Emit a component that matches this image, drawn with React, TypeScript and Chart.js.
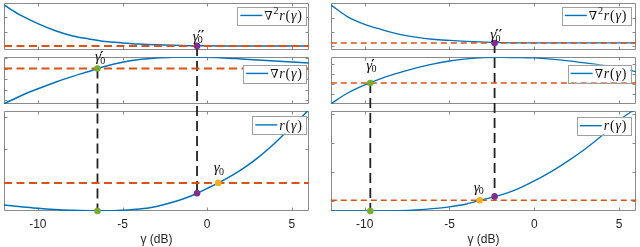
import React, { useEffect, useRef } from 'react';
import { Chart, registerables } from 'chart.js';

Chart.register(...registerables);

// ---------------- data ----------------
const gammaDb = [-12, -11, -10, -9, -8, -7, -6, -5, -4, -3, -2, -1, 0, 1, 2, 3, 4, 5, 6];
const xTickValues = [-10, -5, 0, 5];
const xAxisTitle = 'γ (dB)';
const legendLabels = ['∇²r(γ)', '∇r(γ)', 'r(γ)'];

// left subplot (values in % of each panel's height)
const leftD2r = [95.8, 73.5, 56.0, 41.4, 30.1, 23.3, 17.8, 14.8, 12.3, 10.6, 9.5, 8.8, 8.5, 8.4, 8.4, 8.4, 8.4, 8.4, 8.4];
const leftDr = [0.6, 17.9, 32.7, 46.1, 58.6, 69.7, 81.0, 89.5, 95.0, 98.5, 100.0, 100.3, 99.8, 98.5, 96.4, 94.3, 92.2, 90.1, 88.0];
const leftR = [5.9, 4.3, 2.7, 1.5, 0.7, 0.3, 0.25, 0.8, 2.0, 4.6, 9.0, 14.7, 22.6, 31.1, 41.1, 53.3, 67.9, 84.3, 101.0];
const leftMarkerX = [-6.48, -0.6, 0.65]; // γ0', γ0'', γ0
const leftLevels = [8.4, 76.1, 28.1]; // ∇²r, ∇r, r thresholds
const leftRAtMarkers = [0.0, 17.8]; // r(γ0'), r(γ0'')
const leftYTicks = [[7.8, 38.6, 69.4], [8.5, 30.8, 53.0, 75.3, 97.6], [28.7, 61.5, 94.1]];

// right subplot
const rightD2r = [96.0, 70.5, 54.5, 43.3, 33.7, 27.2, 22.6, 20.0, 18.0, 16.6, 15.4, 14.9, 14.7, 14.7, 14.7, 14.7, 14.7, 14.7, 14.7];
const rightDr = [0.6, 23.6, 41.1, 55.1, 66.6, 76.8, 85.5, 92.0, 96.5, 99.3, 100.0, 99.5, 98.5, 96.0, 92.5, 88.0, 83.0, 77.5, 69.0];
const rightR = [0.3, 0.0, 0.0, 0.0, 0.3, 1.0, 2.3, 4.2, 7.0, 11.6, 15.9, 21.9, 30.1, 39.4, 50.1, 62.0, 75.4, 90.5, 102.5];
const rightMarkerX = [-9.67, -2.34, -3.22];
const rightLevels = [14.7, 45.0, 10.8];
const rightRAtMarkers = [0.0, 14.4];
const rightYTicks = [[8.6, 38.6, 68.6], [21.6, 43.0, 64.5, 86.0], [10.1, 39.2, 67.9, 97.4]];

// ---------------- styles ----------------
const BLUE = '#0072BD';
const ORANGE = '#D95319';
const GREEN = '#77AC30';
const PURPLE = '#7E2F8E';
const YELLOW = '#EDB120';
const FRAME = '#8a8a8a';
const TEXT = '#262626';
const SERIF = "'Liberation Serif', 'DejaVu Serif', serif";
const SANS = "'Liberation Sans', Arial, sans-serif";
const TICK = 3;

interface ColStyle {
  padLeft: number;
  padRight: number;
  curveWidth: number;
  orangeDash: number[];
  orangeWidth: number;
  legendRight: number;
  legendTop: number[];
  labelOff: number[][]; // [dx, dy] for γ0', γ0'', γ0
}

const leftStyle: ColStyle = {
  padLeft: 1.6,
  padRight: 11.2,
  curveWidth: 1.5,
  orangeDash: [8, 4.5],
  orangeWidth: 2,
  legendRight: 2.8,
  legendTop: [6.7, 7.4, 5.2],
  labelOff: [[-2.4, -7.3], [-4.3, -5.3], [-4.4, -10.8]],
};
const rightStyle: ColStyle = {
  padLeft: 10.8,
  padRight: 1.2,
  curveWidth: 1.3,
  orangeDash: [6, 4],
  orangeWidth: 1.6,
  legendRight: 5.5,
  legendTop: [6.7, 7.4, 6],
  labelOff: [[-4, -13.5], [-4.3, -3.5], [-6, -8.5]],
};

interface ColData {
  d2: number[];
  d1: number[];
  r: number[];
  markerX: number[];
  levels: number[];
  rAt: number[];
  yTicks: number[][];
}

const leftData: ColData = { d2: leftD2r, d1: leftDr, r: leftR, markerX: leftMarkerX, levels: leftLevels, rAt: leftRAtMarkers, yTicks: leftYTicks };
const rightData: ColData = { d2: rightD2r, d1: rightDr, r: rightR, markerX: rightMarkerX, levels: rightLevels, rAt: rightRAtMarkers, yTicks: rightYTicks };

// ---------------- drawing helpers ----------------
function mathText(ctx: CanvasRenderingContext2D, text: string, x: number, baseline: number, size: number, draw: boolean): number {
  let cx = x;
  const gap = 0.8;
  for (const ch of Array.from(text)) {
    let s = ch;
    let dy = 0;
    let font: string;
    if (ch === '²') {
      s = '2';
      font = `${Math.round(size * 0.68)}px ${SERIF}`;
      dy = -size * 0.42;
    } else if (ch === 'r' || ch === 'γ') {
      font = `italic ${size}px ${SERIF}`;
    } else if (ch === '∇') {
      font = `${Math.round(size * 0.85)}px ${SERIF}`;
    } else {
      font = `${size}px ${SERIF}`;
    }
    ctx.font = font;
    if (draw) ctx.fillText(s, cx, baseline + dy);
    cx += ctx.measureText(s).width + gap;
  }
  return cx - x - gap;
}

function drawLegend(ctx: CanvasRenderingContext2D, right: number, top: number, label: string) {
  const size = 14;
  const h = 17.5;
  const tw = mathText(ctx, label, 0, 0, size, false);
  const w = 3 + 22 + 2 + tw + 4;
  const left = right - w;
  ctx.save();
  ctx.fillStyle = '#ffffff';
  ctx.fillRect(left, top, w, h);
  ctx.strokeStyle = '#a0a0a0';
  ctx.lineWidth = 1;
  ctx.strokeRect(Math.round(left) + 0.5, Math.round(top) + 0.5, Math.round(w), Math.round(h));
  const cy = top + h / 2;
  ctx.strokeStyle = BLUE;
  ctx.lineWidth = 1.4;
  ctx.beginPath();
  ctx.moveTo(left + 3, cy);
  ctx.lineTo(left + 25, cy);
  ctx.stroke();
  ctx.fillStyle = '#111';
  ctx.textBaseline = 'alphabetic';
  mathText(ctx, label, left + 27, cy + size * 0.33, size, true);
  ctx.restore();
}

function drawGamma(ctx: CanvasRenderingContext2D, x: number, baseline: number, primes: string) {
  ctx.save();
  ctx.fillStyle = '#111';
  ctx.textBaseline = 'alphabetic';
  ctx.font = `italic 15px ${SERIF}`;
  ctx.fillText('γ', x, baseline);
  const w = ctx.measureText('γ').width;
  if (primes) {
    ctx.font = `bold 13px 'DejaVu Sans', sans-serif`;
    ctx.fillText(primes, x + w - 1, baseline - 1.5);
  }
  ctx.font = `10px ${SERIF}`;
  ctx.fillText('0', x + w - 0.8, baseline + 2.5);
  ctx.restore();
}

function makeOverlay(data: ColData, style: ColStyle) {
  return {
    id: 'panelOverlay',
    beforeDatasetsDraw(chart: any) {
      const { ctx, chartArea, scales } = chart;
      const xs = scales.x;
      const L = Math.round(chartArea.left) + 0.5;
      const R = Math.round(chartArea.right) - 0.5;
      ctx.save();
      ctx.strokeStyle = FRAME;
      ctx.lineWidth = 1;
      ['y1', 'y2', 'y3'].forEach((id, i) => {
        const s = scales[id];
        const top = Math.round(i === 0 ? s.top - 1 : s.top) + 0.5;
        const bottom = Math.round(s.bottom) - 0.5;
        ctx.beginPath();
        ctx.rect(L, top, R - L, bottom - top);
        for (const v of xTickValues) {
          const px = Math.round(xs.getPixelForValue(v)) + 0.5;
          ctx.moveTo(px, top);
          ctx.lineTo(px, top + TICK);
          ctx.moveTo(px, bottom);
          ctx.lineTo(px, bottom - TICK);
        }
        for (const v of data.yTicks[i]) {
          const py = Math.round(s.getPixelForValue(v)) + 0.5;
          ctx.moveTo(L, py);
          ctx.lineTo(L + TICK, py);
          ctx.moveTo(R, py);
          ctx.lineTo(R - TICK, py);
        }
        ctx.stroke();
      });
      // vertical dashed connectors
      ctx.strokeStyle = '#222';
      ctx.lineWidth = 1.8;
      ctx.setLineDash([10, 5]);
      const gp = xs.getPixelForValue(data.markerX[0]);
      const gpp = xs.getPixelForValue(data.markerX[1]);
      ctx.beginPath();
      ctx.moveTo(gpp, scales.y1.getPixelForValue(data.levels[0]));
      ctx.lineTo(gpp, scales.y3.getPixelForValue(data.rAt[1]));
      ctx.stroke();
      ctx.beginPath();
      ctx.moveTo(gp, scales.y2.getPixelForValue(data.levels[1]));
      ctx.lineTo(gp, scales.y3.getPixelForValue(data.rAt[0]));
      ctx.stroke();
      ctx.restore();
    },
    afterDatasetsDraw(chart: any) {
      const { ctx, chartArea, scales } = chart;
      const xs = scales.x;
      const right = chartArea.right - style.legendRight;
      const tops = [0, scales.y2.top, scales.y3.top];
      legendLabels.forEach((lab, i) => drawLegend(ctx, right, tops[i] + style.legendTop[i], lab));
      // gamma labels
      const pts = [
        { x: xs.getPixelForValue(data.markerX[0]), y: scales.y2.getPixelForValue(data.levels[1]), p: '′' },
        { x: xs.getPixelForValue(data.markerX[1]), y: scales.y1.getPixelForValue(data.levels[0]), p: '′′' },
        { x: xs.getPixelForValue(data.markerX[2]), y: scales.y3.getPixelForValue(data.levels[2]), p: '' },
      ];
      pts.forEach((pt, i) => drawGamma(ctx, pt.x + style.labelOff[i][0], pt.y + style.labelOff[i][1], pt.p));
    },
  };
}

function buildConfig(data: ColData, style: ColStyle): any {
  const curve = (vals: number[], axis: string) => ({
    type: 'line',
    data: gammaDb.map((x, i) => ({ x, y: vals[i] })),
    yAxisID: axis,
    borderColor: BLUE,
    borderWidth: style.curveWidth,
    pointRadius: 0,
    cubicInterpolationMode: 'monotone',
    fill: false,
    order: 3,
  });
  const level = (v: number, axis: string) => ({
    type: 'line',
    data: [{ x: -12, y: v }, { x: 6, y: v }],
    yAxisID: axis,
    borderColor: ORANGE,
    borderWidth: style.orangeWidth,
    borderDash: style.orangeDash,
    pointRadius: 0,
    fill: false,
    order: 2,
  });
  const marker = (x: number, y: number, axis: string, color: string) => ({
    type: 'line',
    data: [{ x, y }],
    yAxisID: axis,
    showLine: false,
    pointRadius: 3.3,
    pointBackgroundColor: color,
    pointBorderColor: color,
    pointBorderWidth: 0,
    clip: false,
    order: 0,
  });
  const hidden = (weight: number, sw: number, max: number) => ({
    type: 'linear',
    display: false,
    position: 'left',
    stack: 'col',
    stackWeight: sw,
    weight,
    min: 0,
    max,
  });
  return {
    type: 'line',
    data: {
      datasets: [
        marker(data.markerX[1], data.levels[0], 'y1', PURPLE),
        marker(data.markerX[0], data.levels[1], 'y2', GREEN),
        marker(data.markerX[0], data.rAt[0], 'y3', GREEN),
        marker(data.markerX[1], data.rAt[1], 'y3', PURPLE),
        marker(data.markerX[2], data.levels[2], 'y3', YELLOW),
        level(data.levels[0], 'y1'),
        level(data.levels[1], 'y2'),
        level(data.levels[2], 'y3'),
        curve(data.d2, 'y1'),
        curve(data.d1, 'y2'),
        curve(data.r, 'y3'),
      ],
    },
    options: {
      animation: false,
      responsive: false,
      devicePixelRatio: 1,
      events: [],
      layout: { padding: { left: style.padLeft, right: style.padRight, top: 0, bottom: 0 } },
      plugins: { legend: { display: false }, tooltip: { enabled: false }, title: { display: false } },
      scales: {
        x: {
          type: 'linear',
          min: -12,
          max: 6,
          position: 'bottom',
          grid: { display: false, drawTicks: false },
          border: { display: false },
          afterBuildTicks: (s: any) => {
            s.ticks = xTickValues.map((v) => ({ value: v }));
          },
          ticks: {
            padding: 6,
            color: TEXT,
            font: { family: SANS, size: 12 },
            maxRotation: 0,
            callback: (v: any) => String(v),
          },
          title: {
            display: true,
            text: xAxisTitle,
            color: TEXT,
            font: { family: SANS, size: 12 },
            padding: { top: -4.8, bottom: 0 },
          },
        },
        y1: hidden(5, 46.7, 97.9),
        g1: hidden(4, 7.6, 1),
        y2: hidden(3, 47.7, 100),
        g2: hidden(2, 7.0, 1),
        y3: hidden(1, 102, 100),
      },
    },
    plugins: [makeOverlay(data, style)],
  };
}

function ColumnChart({ data, style, left }: { data: ColData; style: ColStyle; left: number }) {
  const ref = useRef<HTMLCanvasElement | null>(null);
  useEffect(() => {
    if (!ref.current) return;
    const chart = new Chart(ref.current, buildConfig(data, style));
    return () => chart.destroy();
  }, [data, style]);
  return (
    <canvas
      ref={ref}
      width={320}
      height={247}
      style={{ position: 'absolute', left, top: 0, width: 320, height: 247 }}
    />
  );
}

export default function App() {
  return (
    <div style={{ position: 'absolute', left: 0, top: 0, width: 640, height: 247, background: '#fff', overflow: 'hidden' }}>
      <ColumnChart data={leftData} style={leftStyle} left={0} />
      <ColumnChart data={rightData} style={rightStyle} left={320} />
    </div>
  );
}
